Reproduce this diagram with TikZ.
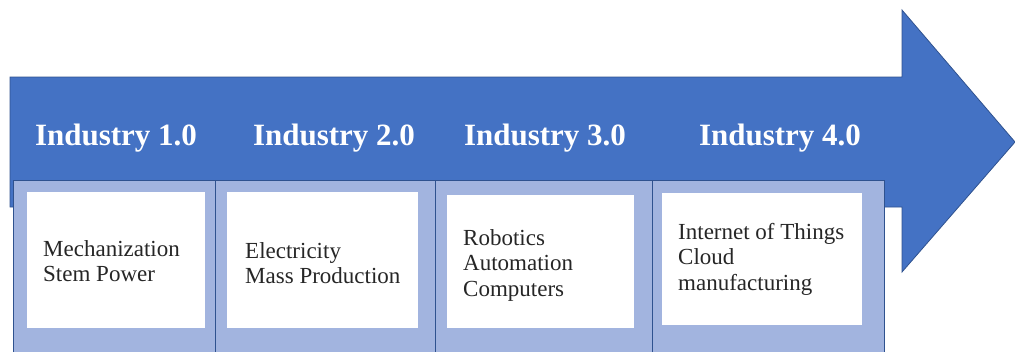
\documentclass[tikz,border=0pt]{standalone}
\usepackage{fontspec}
\setmainfont{Liberation Serif}
\definecolor{arrowblue}{RGB}{68,114,196}
\definecolor{edgeblue}{RGB}{47,82,143}
\definecolor{eralight}{RGB}{162,180,223}

\begin{document}
\begin{tikzpicture}[x=1pt,y=-1pt,
        era/.style={draw=edgeblue, line width=1.3pt, fill=eralight, anchor=north west, inner sep=0pt},
        card/.style={fill=white, anchor=north west, inner sep=0pt},
        title/.style={text=white, font=\fontsize{31}{34}\selectfont\bfseries, anchor=base},
        entry/.style={align=left, anchor=west, inner sep=0pt, text=black!85, font=\fontsize{23}{25.5}\selectfont}]
            \useasboundingbox (0,0) rectangle (1015,351);
            \clip (0,0) rectangle (1015,351);

            % the big arrow
            \filldraw[fill=arrowblue, draw=edgeblue, line width=0.8pt] (10,77) -- (902,77) -- (902,10) -- (1015,142) -- (902,272) -- (902,207) -- (10,207) -- cycle;

            \node[era, minimum width=202pt, minimum height=190pt] (era1) at (13,180) {};
            \node[era, minimum width=220pt, minimum height=190pt] (era2) at (215,180) {};
            \node[era, minimum width=217pt, minimum height=190pt] (era3) at (435,180) {};
            \node[era, minimum width=232pt, minimum height=190pt] (era4) at (652,180) {};

            \node[card, minimum width=178pt, minimum height=136pt] (card1) at (27,192) {};
            \node[card, minimum width=191pt, minimum height=136pt] (card2) at (227,192) {};
            \node[card, minimum width=187pt, minimum height=133pt] (card3) at (447,195) {};
            \node[card, minimum width=200pt, minimum height=132pt] (card4) at (662,193) {};

            \node[title] (ind1) at (116,145) {Industry 1.0};
            \node[title] (ind2) at (334,145) {Industry 2.0};
            \node[title] (ind3) at (545,145) {Industry 3.0};
            \node[title] (ind4) at (780,145) {Industry 4.0};

            \node[entry] (text1) at (43,261) {Mechanization \\ Stem Power};
            \node[entry] (text2) at (245,263) {Electricity \\ Mass Production};
            \node[entry] (text3) at (463,265) {Robotics \\ Automation \\ Computers};
            \node[entry] (text4) at (678,259) {Internet of Things \\ Cloud \\ manufacturing};

        \end{tikzpicture}
\end{document}
